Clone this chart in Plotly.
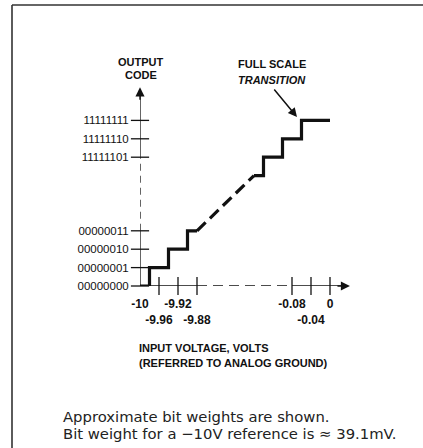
import plotly.graph_objects as go

# ---- data (schematic units: LSB steps along x, output code index along y) ----
code_labels = ["00000000", "00000001", "00000010", "00000011",
               "11111101", "11111110", "11111111"]
code_index = [0, 1, 2, 3, 7, 8, 9]

volt_labels = ["-10", "-9.96", "-9.92", "-9.88", "-0.08", "-0.04", "0"]
volt_step = [0, 1, 2, 3, 8, 9, 10]
volt_row = [0, 1, 0, 1, 0, 1, 0]      # 0 = first label row, 1 = second row

# transitions (in LSB steps) of the lower and upper stair sections
low_trans = [0.5, 1.5, 2.5]
low_codes = [0, 1, 2, 3]
high_trans = [6.5, 7.5, 8.5]
high_codes = [6, 7, 8, 9]
low_end = 3
high_start = 6
full_scale_end = 10

# ---- layout geometry ----
W, H = 423, 448
L, R, T, B = 140, 64, 80, 162
XU, YU = 19.0, 18.4
pw, ph = W - L - R, H - T - B
xr = [0, pw / XU]
yr = [0, ph / YU]


def xp(px):
    return (px - L) / pw


def yp(py):
    return (H - B - py) / ph


def stairs(start_x, trans, codes, end_x):
    xs, ys = [start_x], [codes[0]]
    for t, c0, c1 in zip(trans, codes[:-1], codes[1:]):
        xs += [t, t]
        ys += [c0, c1]
    xs.append(end_x)
    ys.append(codes[-1])
    return xs, ys


fig = go.Figure()
blk = "#111111"
lw = 1.3

def seg(x, y, dash=None, width=lw):
    fig.add_trace(go.Scatter(x=x, y=y, mode="lines",
                             line=dict(color=blk, width=width, dash=dash),
                             hoverinfo="skip", cliponaxis=False))

# axes drawn as lines (solid + dashed break)
seg([0, 0], [0, 3])
seg([0, 0], [3, 7], dash="7px,5px")
seg([0, 0], [7, 10.4])
seg([0, 3], [0, 0])
seg([3, 8], [0, 0], dash="10px,6px")
seg([8, 10.6], [0, 0])

# tick crosses
fig.add_trace(go.Scatter(x=[0] * len(code_index), y=code_index, mode="markers",
                         marker=dict(symbol="line-ew", size=13, line=dict(color=blk, width=lw)),
                         hoverinfo="skip", cliponaxis=False))
fig.add_trace(go.Scatter(x=volt_step[1:], y=[0] * (len(volt_step) - 1), mode="markers",
                         marker=dict(symbol="line-ns", size=13, line=dict(color=blk, width=lw)),
                         hoverinfo="skip", cliponaxis=False))

# staircase
lx, ly = stairs(0, low_trans, low_codes, low_end)
hx, hy = stairs(high_start, high_trans, high_codes, full_scale_end)
seg(lx, ly, width=3.2)
seg([low_end, high_start], [low_codes[-1], high_codes[0]], dash="12px,6px", width=3.2)
seg(hx, hy, width=3.2)

cond = "Liberation Sans, Arial, sans-serif"

ticktext = [("<br>" if r else "") + t for t, r in zip(volt_labels, volt_row)]

fig.update_layout(
    width=W, height=H, showlegend=False,
    margin=dict(l=L, r=R, t=T, b=B, pad=0),
    paper_bgcolor="white", plot_bgcolor="white",
    xaxis=dict(range=xr, showgrid=False, zeroline=False, showline=False,
               tickvals=volt_step, ticktext=ticktext, ticks="outside", ticklen=7,
               tickangle=0, tickcolor="rgba(0,0,0,0)", automargin=False,
               tickfont=dict(family=cond, size=12, color=blk, weight="bold")),
    yaxis=dict(range=yr, showgrid=False, zeroline=False, showline=False,
               tickvals=code_index, ticktext=code_labels, ticks="outside", ticklen=8,
               tickcolor="rgba(0,0,0,0)", automargin=False,
               tickfont=dict(family=cond, size=11.5, color=blk)),
)

ann = []
# axis arrowheads
ann.append(dict(x=0, y=10.8, xref="x", yref="y", ax=0, ay=14,
                showarrow=True, arrowhead=2, arrowsize=1.3, arrowwidth=1.4, arrowcolor=blk, text=""))
ann.append(dict(x=11.05, y=0, xref="x", yref="y", ax=-14, ay=0,
                showarrow=True, arrowhead=2, arrowsize=1.3, arrowwidth=1.4, arrowcolor=blk, text=""))
# full scale transition arrow
ann.append(dict(x=xp(297), y=yp(117), xref="paper", yref="paper", ax=-24, ay=-29,
                showarrow=True, arrowhead=2, arrowsize=1.2, arrowwidth=1.5, arrowcolor=blk, text=""))


def txt(s, px, py, xanchor="center", size=11, family=cond, color=blk):
    ann.append(dict(text=s, x=xp(px), y=yp(py), xref="paper", yref="paper",
                    xanchor=xanchor, yanchor="middle", showarrow=False,
                    font=dict(family=family, size=size, color=color)))


txt("<b>OUTPUT</b>", 141, 62)
txt("<b>CODE</b>", 141, 75)
txt("<b>FULL SCALE</b>", 272, 64)
txt("<b><i>TRANSITION</i></b>", 272, 80)
txt("<b>INPUT VOLTAGE, VOLTS</b>", 137, 348, xanchor="left")
txt("<b>(REFERRED TO ANALOG GROUND)</b>", 137, 363, xanchor="left")
txt("Approximate bit weights are shown.", 61, 416, xanchor="left",
    size=14.8, family="DejaVu Sans, sans-serif", color="#222222")
txt("Bit weight for a \u221210V reference is \u2248 39.1mV.", 61, 433, xanchor="left",
    size=14.8, family="DejaVu Sans, sans-serif", color="#222222")
fig.update_layout(annotations=ann)

# frame lines
fig.add_shape(type="line", xref="paper", yref="paper", x0=xp(12), x1=xp(12), y0=yp(5), y1=yp(450),
              line=dict(color="#333333", width=1.6))
fig.add_shape(type="line", xref="paper", yref="paper", x0=xp(12), x1=xp(425), y0=yp(5), y1=yp(5),
              line=dict(color="#333333", width=1.6))

fig.write_html("out.html", config={"displayModeBar": False},
               post_script="document.body.style.margin='0';document.body.style.overflow='hidden';")
